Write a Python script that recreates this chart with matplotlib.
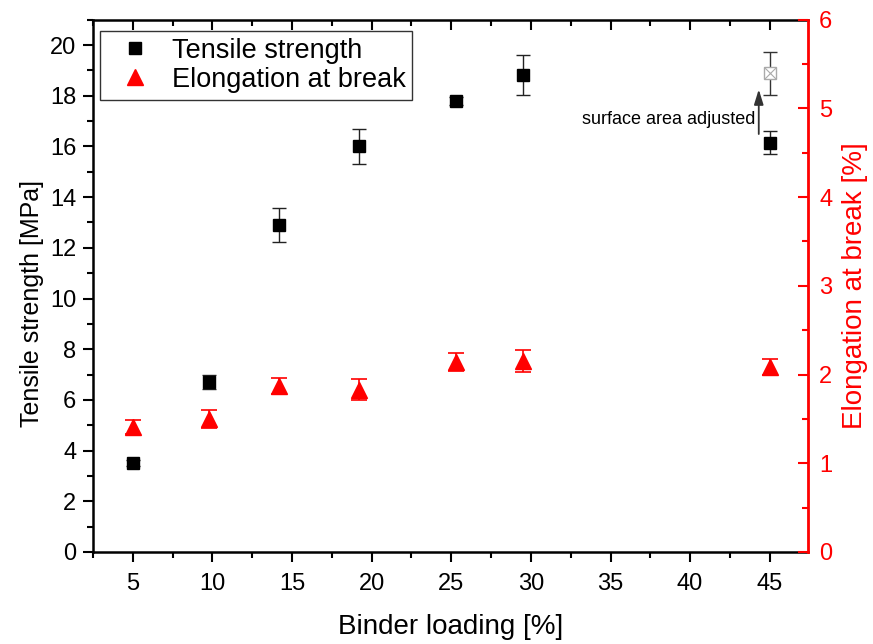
import matplotlib.pyplot as plt
from matplotlib.ticker import MultipleLocator
from matplotlib.lines import Line2D

plt.rcParams['font.family'] = ['Liberation Sans', 'DejaVu Sans']

# binder loading [%]
loading = [5, 9.8, 14.2, 19.2, 25.3, 29.5, 45.0]
# tensile strength [MPa] and its error
tensile = [3.5, 6.7, 12.9, 16.0, 17.8, 18.8, 16.15]
tensile_err = [0.12, 0.27, 0.66, 0.68, 0.15, 0.79, 0.46]
# elongation at break [%] and its error
elong = [1.41, 1.50, 1.87, 1.83, 2.14, 2.15, 2.09]
elong_err = [0.08, 0.105, 0.09, 0.12, 0.10, 0.125, 0.09]
# surface area adjusted point
adj_loading = [45.0]
adj_tensile = [18.88]
adj_err = [0.86]

fig = plt.figure(figsize=(8.73, 6.44), dpi=100)
ax1 = fig.add_axes([0.1065, 0.1429, 0.819, 0.8265])
ax2 = ax1.twinx()

ax1.errorbar(loading, tensile, yerr=tensile_err, fmt='s', color='black',
             ms=8.8, ecolor='#222222', elinewidth=1, capsize=5, capthick=1)
ax1.errorbar(adj_loading, adj_tensile, yerr=adj_err, fmt='none',
             ecolor='#333333', elinewidth=1, capsize=5, capthick=1)
ax1.plot(adj_loading, adj_tensile, 's', ms=8.8, mfc='white', mec='#aaaaaa', mew=1)
ax1.plot(adj_loading, adj_tensile, 'x', ms=8, color='#aaaaaa', mew=0.8)

ax2.errorbar(loading, elong, yerr=elong_err, fmt='^', color='red', ms=11.5,
             ecolor='red', elinewidth=1.2, capsize=5.5, capthick=1.2)

ax1.annotate('', xy=(44.31, 18.36), xytext=(44.31, 16.38),
             arrowprops=dict(arrowstyle='-|>,head_length=0.9,head_width=0.28',
                             color='#333333', lw=1.3))
ax1.text(44.1, 17.08, 'surface area adjusted', ha='right', va='center',
         fontsize=13)

ax1.set_xlim(2.5, 47.4)
ax1.set_ylim(0, 21)
ax2.set_ylim(0, 6)

ax1.xaxis.set_major_locator(MultipleLocator(5))
ax1.xaxis.set_minor_locator(MultipleLocator(2.5))
ax1.yaxis.set_major_locator(MultipleLocator(2))
ax1.yaxis.set_minor_locator(MultipleLocator(1))
ax2.yaxis.set_major_locator(MultipleLocator(1))
ax2.yaxis.set_minor_locator(MultipleLocator(0.5))

ax1.tick_params(axis='x', which='both', direction='out', top=True,
                labelsize=17, pad=8)
ax1.tick_params(axis='y', which='both', direction='out', labelsize=17, pad=5)
ax1.tick_params(which='major', length=7, width=1.5)
ax1.tick_params(which='minor', length=4, width=1.5)
ax2.tick_params(axis='y', which='both', direction='in', colors='red',
                labelsize=17, width=1.5, pad=8)
ax2.tick_params(which='major', length=7)
ax2.tick_params(which='minor', length=4)

# top ticks point inward
for t in ax1.xaxis.get_major_ticks() + ax1.xaxis.get_minor_ticks():
    t.tick2line.set_marker(3)

for s in ['left', 'bottom', 'top']:
    ax1.spines[s].set_linewidth(1.8)
ax2.spines['right'].set_color('red')
ax2.spines['right'].set_linewidth(2)
for s in ['left', 'bottom', 'top']:
    ax2.spines[s].set_visible(False)

ax1.set_xlabel('Binder loading [%]', fontsize=20, labelpad=14)
ax1.set_ylabel('Tensile strength [MPa]', fontsize=18)
ax1.yaxis.set_label_coords(-0.068, 0.466)
ax2.set_ylabel('Elongation at break [%]', fontsize=20, color='red')
ax2.yaxis.set_label_coords(1.048, 0.5)

handles = [Line2D([], [], ls='none', marker='s', color='black', ms=8.8),
           Line2D([], [], ls='none', marker='^', color='red', ms=11.5)]
leg = ax2.legend(handles, ['Tensile strength', 'Elongation at break'],
                 loc='upper left', bbox_to_anchor=(0.0098, 0.979),
                 borderaxespad=0, fontsize=19.5, fancybox=False,
                 edgecolor='#333333', framealpha=1, handlelength=2.1,
                 handletextpad=0.3, labelspacing=0.12, borderpad=0.25)
leg.get_frame().set_linewidth(1)

fig.savefig('out.png', dpi=100)
